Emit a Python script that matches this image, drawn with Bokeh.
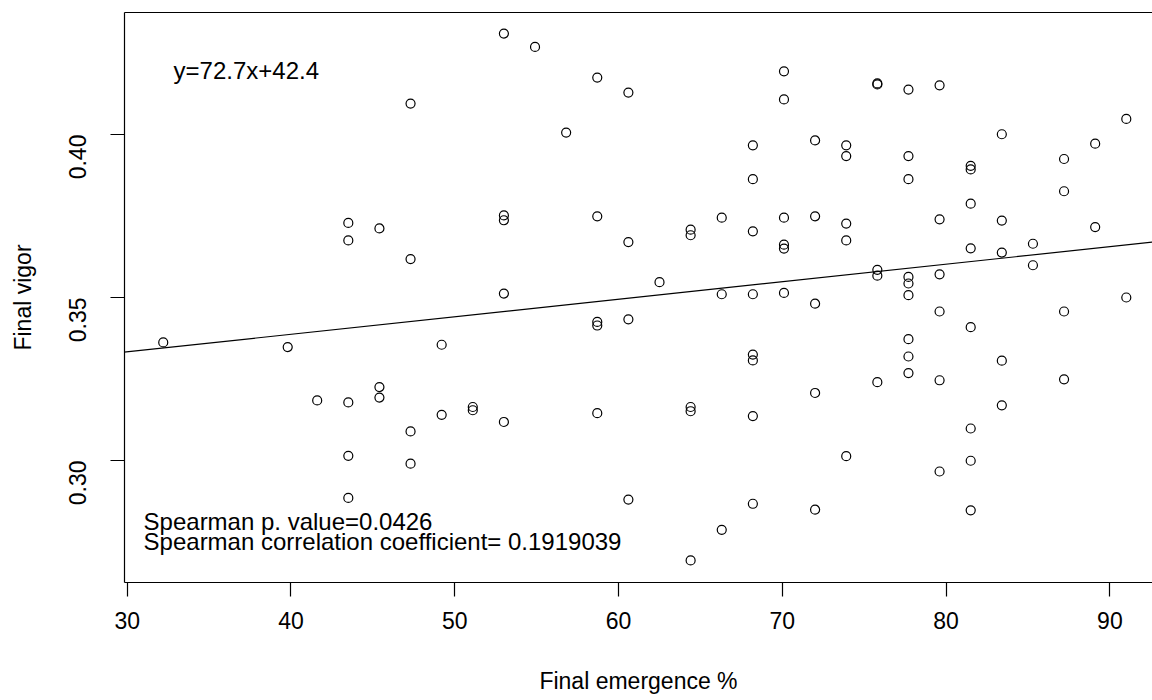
from bokeh.plotting import figure
from bokeh.models import Range1d, Slope, Label, LinearAxis, FixedTicker, ColumnDataSource
from bokeh.embed import file_html
from bokeh.resources import INLINE
import math

# ---- data ----
emergence = (
    [32.2] + [39.8] + [41.6] + [43.5] * 5 + [45.4] * 3 + [47.3] * 4 + [49.2] * 2 + [51.1] * 2
    + [53.0] * 5 + [54.9] + [56.8] + [58.7] * 5 + [60.6] * 4 + [62.5] + [64.4] * 5 + [66.3] * 3
    + [68.2] * 8 + [70.1] * 6 + [72.0] * 5 + [73.9] * 5 + [75.8] * 5 + [77.7] * 9 + [79.6] * 6
    + [81.5] * 8 + [83.4] * 5 + [85.3] * 2 + [87.2] * 4 + [89.1] * 2 + [91.0] * 2
)
vigor = [
    0.3362,
    0.3348,
    0.3184,
    0.3729, 0.3675, 0.3178, 0.3014, 0.2885,
    0.3712, 0.3225, 0.3193,
    0.4095, 0.3618, 0.3089, 0.2990,
    0.3355, 0.3140,
    0.3164, 0.3154,
    0.4310, 0.3752, 0.3737, 0.3512, 0.3118,
    0.4269,
    0.4006,
    0.4175, 0.3749, 0.3425, 0.3414, 0.3145,
    0.4129, 0.3670, 0.3433, 0.2880,
    0.3547,
    0.3708, 0.3691, 0.3164, 0.3151, 0.2693,
    0.3745, 0.3510, 0.2787,
    0.3967, 0.3863, 0.3703, 0.3510, 0.3325, 0.3307, 0.3136, 0.2867,
    0.4194, 0.4108, 0.3745, 0.3662, 0.3650, 0.3514,
    0.3982, 0.3749, 0.3481, 0.3207, 0.2849,
    0.3967, 0.3934, 0.3727, 0.3675, 0.3013,
    0.4154, 0.4157, 0.3585, 0.3567, 0.3240,
    0.4138, 0.3934, 0.3863, 0.3563, 0.3543, 0.3507, 0.3372, 0.3319, 0.3268,
    0.4151, 0.3740, 0.3571, 0.3457, 0.3246, 0.2966,
    0.3904, 0.3893, 0.3788, 0.3651, 0.3409, 0.3098, 0.2999, 0.2847,
    0.4001, 0.3736, 0.3638, 0.3306, 0.3169,
    0.3665, 0.3599,
    0.3925, 0.3826, 0.3457, 0.3249,
    0.3972, 0.3716,
    0.4048, 0.3500,
]
x_ticks = [30, 40, 50, 60, 70, 80, 90]
y_ticks = [0.30, 0.35, 0.40]
fit_gradient = 0.0005378
fit_intercept = 0.3172
eq_text = "y=72.7x+42.4"
p_text = "Spearman p. value=0.0426"
r_text = "Spearman correlation coefficient= 0.1919039"

FONT = "Liberation Sans"
FS = "23px"
FS_NOTE = "24px"

p = figure(width=1152, height=700, output_backend="svg", toolbar_location=None,
           x_range=Range1d(29.835, 92.60), y_range=Range1d(0.26254, 0.43746),
           min_border_left=124, min_border_right=0, min_border_top=12, min_border_bottom=118)
p.outline_line_color = None
p.grid.visible = False
p.background_fill_color = "white"
p.border_fill_color = "white"

src = ColumnDataSource(dict(x=emergence, y=vigor))
p.scatter("x", "y", source=src, marker="circle", size=9, fill_color=None,
          line_color="black", line_width=1.2)

p.add_layout(Slope(gradient=fit_gradient, y_intercept=fit_intercept,
                   line_color="black", line_width=1.2))

for ax in (p.xaxis[0], p.yaxis[0]):
    ax.axis_line_color = "black"
    ax.axis_line_width = 1.2
    ax.major_tick_line_color = "black"
    ax.major_tick_line_width = 1.2
    ax.major_tick_out = 14
    ax.major_tick_in = 0
    ax.minor_tick_out = 0
    ax.minor_tick_in = 0
    ax.major_label_text_font = FONT
    ax.major_label_text_font_size = FS
    ax.major_label_text_color = "black"
    ax.axis_label_text_font = FONT
    ax.axis_label_text_font_size = FS
    ax.axis_label_text_font_style = "normal"
    ax.axis_label_text_color = "black"

p.xaxis[0].ticker = FixedTicker(ticks=x_ticks)
p.yaxis[0].ticker = FixedTicker(ticks=y_ticks)
p.yaxis[0].major_label_overrides = {0.30: "0.30", 0.35: "0.35", 0.40: "0.40"}
p.xaxis[0].axis_label = "Final emergence %"
p.yaxis[0].axis_label = "Final vigor"
p.xaxis[0].major_label_standoff = 15
p.xaxis[0].axis_label_standoff = 36
p.yaxis[0].major_label_orientation = math.pi / 2
p.yaxis[0].major_label_standoff = 33
p.yaxis[0].axis_label_standoff = 22

top = LinearAxis(ticker=FixedTicker(ticks=[]), axis_line_color="black", axis_line_width=1.2,
                 major_tick_out=0, major_tick_in=0, minor_tick_out=0, minor_tick_in=0)
p.add_layout(top, "above")

p.add_layout(Label(x=32.83, y=0.4197, text=eq_text, text_font=FONT, text_font_size=FS_NOTE,
                   text_baseline="alphabetic", text_align="left", text_color="black"))
p.add_layout(Label(x=31.0, y=0.28136, text=p_text, text_font=FONT, text_font_size=FS_NOTE,
                   text_baseline="alphabetic", text_align="left", text_color="black"))
p.add_layout(Label(x=31.0, y=0.27513, text=r_text, text_font=FONT, text_font_size=FS_NOTE,
                   text_baseline="alphabetic", text_align="left", text_color="black"))

open("out.html", "w").write(file_html(p, INLINE))
